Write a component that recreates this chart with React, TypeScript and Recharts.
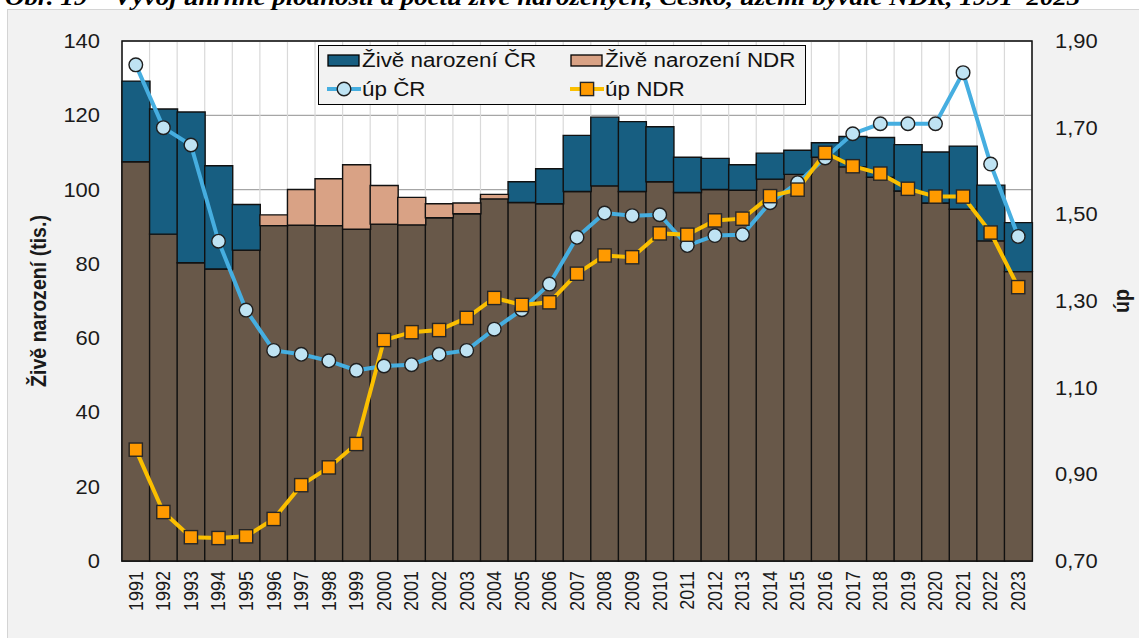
import React from 'react';
import { ComposedChart, Bar, Line, XAxis, YAxis, CartesianGrid, ReferenceArea, Legend } from 'recharts';

const years = ['1991','1992','1993','1994','1995','1996','1997','1998','1999','2000','2001','2002','2003','2004','2005','2006','2007','2008','2009','2010','2011','2012','2013','2014','2015','2016','2017','2018','2019','2020','2021','2022','2023'];

const birthsCR = [129.2, 121.7, 120.9, 106.4, 96.0, 90.3, 90.4, 90.3, 89.3, 90.7, 90.5, 92.4, 93.5, 97.5, 102.1, 105.6, 114.6, 119.5, 118.3, 116.9, 108.7, 108.4, 106.7, 109.8, 110.6, 112.6, 114.3, 114.0, 112.1, 110.1, 111.7, 101.2, 91.1];
const birthsNDR = [107.5, 88.0, 80.3, 78.6, 83.7, 93.2, 100.0, 102.9, 106.7, 101.1, 97.9, 96.2, 96.4, 98.7, 96.5, 96.2, 99.5, 101.0, 99.5, 102.1, 99.2, 100.0, 99.8, 102.8, 104.1, 108.7, 106.1, 103.3, 99.6, 96.4, 94.7, 86.2, 77.9];
const tfrCR = [1.845, 1.700, 1.660, 1.438, 1.279, 1.186, 1.177, 1.162, 1.140, 1.150, 1.153, 1.177, 1.186, 1.235, 1.280, 1.339, 1.447, 1.503, 1.497, 1.499, 1.428, 1.451, 1.453, 1.527, 1.573, 1.630, 1.686, 1.709, 1.709, 1.709, 1.827, 1.616, 1.449];
const tfrNDR = [0.957, 0.813, 0.755, 0.753, 0.757, 0.797, 0.875, 0.916, 0.970, 1.210, 1.228, 1.233, 1.261, 1.307, 1.291, 1.297, 1.363, 1.405, 1.401, 1.456, 1.453, 1.486, 1.490, 1.542, 1.557, 1.642, 1.611, 1.594, 1.559, 1.541, 1.541, 1.458, 1.332];

const leftTicks = [0, 20, 40, 60, 80, 100, 120, 140];
const rightTicks = [0.7, 0.9, 1.1, 1.3, 1.5, 1.7, 1.9];

const titleText = 'Obr. 19 – Vývoj úhrnné plodnosti a počtu živě narozených, Česko, území bývalé NDR, 1991–2023';
const leftAxisTitle = 'Živě narození (tis.)';
const rightAxisTitle = 'úp';
const legendLabels = ['Živě narození ČR', 'Živě narození NDR', 'úp ČR', 'úp NDR'];

const C_BLUE = '#175e81';
const C_SALMON = '#d9a285';
const C_BROWN = '#685849';
const C_LINE_CR = '#46aee0';
const C_DOT_CR = '#bfe3f3';
const C_LINE_NDR = '#fbbf00';
const C_DOT_NDR = '#ff9a00';
const STROKE = '#111';

const data = years.map((y, i) => {
  const cr = birthsCR[i];
  const ndr = birthsNDR[i];
  return {
    year: y,
    common: Math.min(cr, ndr),
    crTop: cr > ndr ? cr - ndr : 0,
    ndrTop: ndr > cr ? ndr - cr : 0,
    tfrCR: tfrCR[i],
    tfrNDR: tfrNDR[i],
  };
});

const SX = 1.12;
const FONT = '"Liberation Sans", Arial, sans-serif';

const LeftTick = (props: any) => {
  const { x, y, payload } = props;
  return (
    <g transform={`translate(${x},${y}) scale(${SX},1)`}>
      <text x={0} y={0} textAnchor="end" dominantBaseline="central" fontSize={19.6} fill="#1a1a1a" fontFamily={FONT}>
        {payload.value}
      </text>
    </g>
  );
};

const RightTick = (props: any) => {
  const { x, y, payload } = props;
  return (
    <g transform={`translate(${x},${y}) scale(${SX},1)`}>
      <text x={0} y={0} textAnchor="start" dominantBaseline="central" fontSize={19.6} fill="#1a1a1a" fontFamily={FONT}>
        {Number(payload.value).toFixed(2).replace('.', ',')}
      </text>
    </g>
  );
};

const XTick = (props: any) => {
  const { x, y, payload } = props;
  return (
    <g transform={`translate(${x},${y}) scale(${SX},1) rotate(-90)`}>
      <text x={0} y={0} textAnchor="end" dominantBaseline="central" fontSize={18} fill="#1a1a1a" fontFamily={FONT}>
        {payload.value}
      </text>
    </g>
  );
};

const LeftTitle = (props: any) => {
  const vb = props.viewBox || {};
  const cx = vb.x + 38;
  const cy = vb.y + vb.height / 2;
  return (
    <g transform={`translate(${cx},${cy}) scale(${SX},1) rotate(-90)`}>
      <text x={0} y={0} textAnchor="middle" dominantBaseline="central" fontSize={19.6} fontWeight="bold" fill="#1a1a1a" fontFamily={FONT}>
        {leftAxisTitle}
      </text>
    </g>
  );
};

const RightTitle = (props: any) => {
  const vb = props.viewBox || {};
  const cx = vb.x + 89;
  const cy = vb.y + vb.height / 2;
  return (
    <g transform={`translate(${cx},${cy}) scale(${SX},1) rotate(-90)`}>
      <text x={0} y={0} textAnchor="middle" dominantBaseline="central" fontSize={19.6} fontWeight="bold" fill="#1a1a1a" fontFamily={FONT}>
        {rightAxisTitle}
      </text>
    </g>
  );
};

const CircleDot = (props: any) => {
  const { cx, cy, index } = props;
  if (cx == null || cy == null) return <g key={`c${index}`} />;
  return <circle key={`c${index}`} cx={cx} cy={cy} r={6.8} fill={C_DOT_CR} stroke="#1f1f1f" strokeWidth={1.4} />;
};

const SquareDot = (props: any) => {
  const { cx, cy, index } = props;
  if (cx == null || cy == null) return <g key={`s${index}`} />;
  return <rect key={`s${index}`} x={cx - 6.6} y={cy - 6.6} width={13.2} height={13.2} fill={C_DOT_NDR} stroke="#262626" strokeWidth={1.4} />;
};

const legendText: React.CSSProperties = {
  position: 'absolute',
  fontFamily: FONT,
  fontSize: 20,
  lineHeight: '20px',
  color: '#111',
  whiteSpace: 'nowrap',
  transform: `scaleX(${SX})`,
  transformOrigin: 'left center',
};

const LegendBox = () => (
  <div style={{ position: 'relative', width: 488, height: 60, boxSizing: 'border-box', border: '1.5px solid #000', background: '#f2f2f2' }}>
    <svg style={{ position: 'absolute', left: 8, top: 8 }} width={34} height={14}>
      <rect x={1} y={1} width={31} height={11} fill={C_BLUE} stroke="#000" strokeWidth={1.3} />
    </svg>
    <div style={{ ...legendText, left: 43, top: 4 }}>{legendLabels[0]}</div>
    <svg style={{ position: 'absolute', left: 251, top: 8 }} width={34} height={14}>
      <rect x={1} y={1} width={31} height={11} fill={C_SALMON} stroke="#000" strokeWidth={1.3} />
    </svg>
    <div style={{ ...legendText, left: 286, top: 4 }}>{legendLabels[1]}</div>
    <svg style={{ position: 'absolute', left: 8, top: 34 }} width={34} height={18}>
      <line x1={0} y1={9} x2={34} y2={9} stroke={C_LINE_CR} strokeWidth={4} />
      <circle cx={17} cy={9} r={6.8} fill={C_DOT_CR} stroke="#1f1f1f" strokeWidth={1.4} />
    </svg>
    <div style={{ ...legendText, left: 43, top: 33 }}>{legendLabels[2]}</div>
    <svg style={{ position: 'absolute', left: 251, top: 34 }} width={34} height={18}>
      <line x1={0} y1={9} x2={34} y2={9} stroke={C_LINE_NDR} strokeWidth={4} />
      <rect x={10.4} y={2.4} width={13.2} height={13.2} fill={C_DOT_NDR} stroke="#262626" strokeWidth={1.4} />
    </svg>
    <div style={{ ...legendText, left: 286, top: 33 }}>{legendLabels[3]}</div>
  </div>
);

export default function App() {
  return (
    <div style={{ position: 'absolute', left: 0, top: 0, width: 1139, height: 638, overflow: 'hidden', background: '#ffffff' }}>
      <div style={{ position: 'absolute', left: 7, top: 9, width: 1150, height: 650, background: '#f2f2f2', borderLeft: '1px solid #d4d4d4', borderTop: '1px solid #d4d4d4' }} />
      <div style={{ position: 'absolute', left: 5, top: -15, fontFamily: '"Liberation Serif", "Times New Roman", serif', fontWeight: 'bold', fontStyle: 'italic', fontSize: 24, lineHeight: '24px', whiteSpace: 'nowrap', color: '#000', transform: `scaleX(${SX})`, transformOrigin: 'left top' }}>
        {titleText}
      </div>
      <div style={{ position: 'absolute', left: 0, top: 0 }}>
        <ComposedChart width={1139} height={638} data={data} margin={{ top: 41, right: 0, bottom: 0, left: 0 }} barCategoryGap={0} barGap={0}>
          <CartesianGrid yAxisId="left" vertical={false} stroke="#a6a6a6" strokeWidth={1.2} fill="#ffffff" />
          <CartesianGrid
            yAxisId="left"
            horizontal={false}
            stroke="#d9d9d9"
            strokeWidth={1.2}
            verticalCoordinatesGenerator={(p: any) => {
              const o = p.offset;
              return years.map((_, i) => o.left + (i * o.width) / years.length).concat([o.left + o.width]);
            }}
          />
          <XAxis dataKey="year" interval={0} tickLine={false} axisLine={false} tickSize={0} tickMargin={10} height={77} tick={<XTick />} />
          <YAxis yAxisId="left" orientation="left" width={122} domain={[0, 140]} ticks={leftTicks} tickLine={false} axisLine={false} tickSize={0} tickMargin={22} tick={<LeftTick />} label={<LeftTitle />} />
          <YAxis yAxisId="right" orientation="right" width={107} domain={[0.7, 1.9]} ticks={rightTicks} tickLine={false} axisLine={false} tickSize={0} tickMargin={23} tick={<RightTick />} label={<RightTitle />} />
          <Bar yAxisId="left" dataKey="common" stackId="b" fill={C_BROWN} stroke={STROKE} strokeWidth={1.4} isAnimationActive={false} legendType="none" />
          <Bar yAxisId="left" dataKey="crTop" name={legendLabels[0]} stackId="b" fill={C_BLUE} stroke={STROKE} strokeWidth={1.4} isAnimationActive={false} />
          <Bar yAxisId="left" dataKey="ndrTop" name={legendLabels[1]} stackId="b" fill={C_SALMON} stroke={STROKE} strokeWidth={1.4} isAnimationActive={false} />
          <Line yAxisId="right" dataKey="tfrCR" name={legendLabels[2]} stroke={C_LINE_CR} strokeWidth={4} dot={<CircleDot />} activeDot={false} isAnimationActive={false} />
          <Line yAxisId="right" dataKey="tfrNDR" name={legendLabels[3]} stroke={C_LINE_NDR} strokeWidth={4} dot={<SquareDot />} activeDot={false} isAnimationActive={false} />
          <ReferenceArea yAxisId="left" x1={years[0]} x2={years[years.length - 1]} y1={0} y2={140} fill="none" stroke="#0d0d0d" strokeWidth={1.5} ifOverflow="visible" />
          <Legend
            layout="horizontal"
            verticalAlign="middle"
            align="center"
            content={<LegendBox />}
            wrapperStyle={{ position: 'absolute', left: 318, top: 45, width: 488, height: 60 }}
          />
        </ComposedChart>
      </div>
    </div>
  );
}
